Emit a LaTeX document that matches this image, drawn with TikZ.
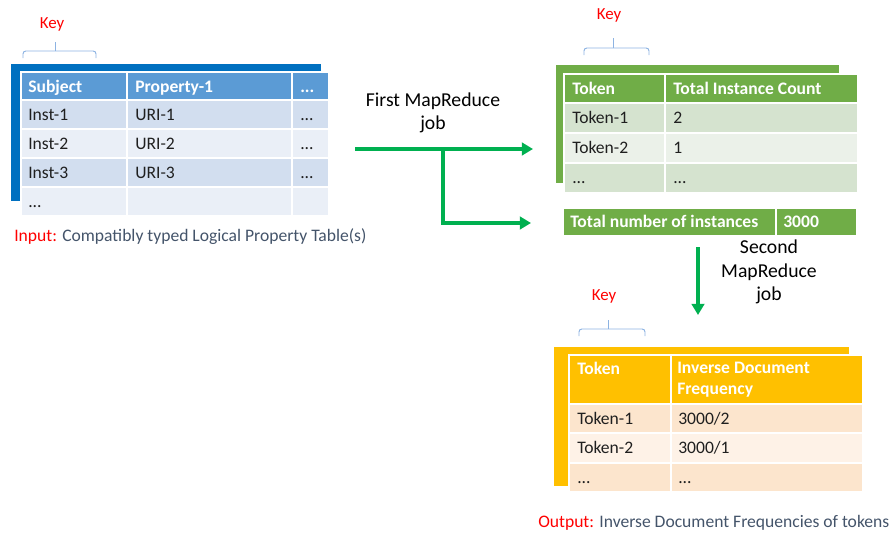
\documentclass[tikz,border=0pt]{standalone}
\usepackage{fontspec}
\setmainfont{Carlito}
\usepackage{tikz}
\usetikzlibrary{arrows.meta}
\definecolor{inHd}{RGB}{91,155,213}
\definecolor{inBk}{RGB}{0,112,192}
\definecolor{inA}{RGB}{210,222,239}
\definecolor{inB}{RGB}{234,239,247}
\definecolor{cnHd}{RGB}{112,173,71}
\definecolor{cnA}{RGB}{213,227,207}
\definecolor{cnB}{RGB}{235,241,233}
\definecolor{idHd}{RGB}{255,192,0}
\definecolor{idA}{RGB}{252,229,205}
\definecolor{idB}{RGB}{254,242,231}
\definecolor{mrgreen}{RGB}{0,176,80}
\definecolor{captgray}{RGB}{68,84,106}
\definecolor{brc}{RGB}{141,179,226}
\newcommand{\etcdots}{...}

\begin{document}
\begin{tikzpicture}[x=0.025cm,y=-0.025cm,
  txt/.style={anchor=west,inner sep=0pt,text height=8.5pt,text depth=0.5pt,
    font=\fontsize{12.5}{15}\selectfont,text=black!88},
  hd/.style={txt,font=\fontsize{12.5}{15}\selectfont\bfseries,text=white},
  hdtwo/.style={anchor=west,inner sep=0pt,align=left,
    font=\fontsize{12.5}{15}\selectfont\bfseries,text=white},
  cellA/.style={draw=white,line width=1pt},
  keytxt/.style={text=red,font=\fontsize{12}{14}\selectfont},
  keybr/.style={brc,line width=0.7pt,rounded corners=2},
  capt/.style={anchor=west,inner sep=0pt,text height=8.5pt,text depth=0.5pt,
    text=captgray,font=\fontsize{12.5}{15}\selectfont},
  mr/.style={mrgreen,line width=2.8pt,-{Triangle[length=8pt,width=9pt]}},
  mrtxt/.style={align=center,font=\fontsize{14}{16.5}\selectfont}]
\useasboundingbox (0,0) rectangle (895,533);
% (a) input table
\begin{scope}[shift={(21,72)}]
  \fill[inBk] (-10,-8) rectangle (300,129);
  \foreach \x/\X in {0/106,106/271,271/308}{\filldraw[cellA,fill=inHd] (\x,0) rectangle (\X,28);}
  \foreach \y/\Y/\c in {28/57/inA,57/86/inB,86/115/inA,115/144/inB}{
    \foreach \x/\X in {0/106,106/271,271/308}{\filldraw[cellA,fill=\c] (\x,\y) rectangle (\X,\Y);}}
  \draw[white,line width=1.6pt] (0,28) -- (308,28);
  \node[hd] (inH1) at (7,15) {Subject};
  \node[hd] (inH2) at (114,15) {Property-1};
  \node[hd] (inH3) at (279,15) {\etcdots};
  \foreach \n/\y in {1/43,2/72,3/101}{
    \node[txt] (inA\n) at (7,\y) {Inst-\n};
    \node[txt] (inB\n) at (114,\y) {URI-\n};
    \node[txt] (inC\n) at (279,\y) {\etcdots};}
  \node[txt] (inA4) at (7,130) {\etcdots};
\end{scope}
\node[keytxt] (keyIn) at (52,24) {Key};
\draw[keybr] (23,58) -- (23,51) -- (96,51) -- (96,58);
\draw[keybr] (55,51) -- (55,42);
\node[capt] (capIn) at (14,236) {\textcolor{red}{Input:} Compatibly typed Logical Property Table(s)};
% (b) token counts
\begin{scope}[shift={(564,74)}]
  \fill[cnHd] (-8,-9) rectangle (275,109);
  \foreach \x/\X in {0/101,101/294}{\filldraw[cellA,fill=cnHd] (\x,0) rectangle (\X,29);}
  \foreach \y/\Y/\c in {29/59/cnA,59/89/cnB,89/119/cnA}{
    \foreach \x/\X in {0/101,101/294}{\filldraw[cellA,fill=\c] (\x,\y) rectangle (\X,\Y);}}
  \draw[white,line width=1.6pt] (0,29) -- (294,29);
  \node[hd] (cnH1) at (8,14.5) {Token};
  \node[hd] (cnH2) at (109,14.5) {Total Instance Count};
  \foreach \n/\a/\b/\y in {1/Token-1/2/44,2/Token-2/1/74,3/\etcdots/\etcdots/104}{
    \node[txt] (cnA\n) at (8,\y) {\a};
    \node[txt] (cnB\n) at (109,\y) {\b};}
  % total number of instances
  \foreach \x/\X in {-1/212,212/293}{\filldraw[cellA,fill=cnHd] (\x,134) rectangle (\X,162);}
  \node[hd] (totL) at (6,148) {Total number of instances};
  \node[hd] (totV) at (219,148) {3000};
\end{scope}
\node[keytxt] (keyCn) at (609,15) {Key};
\draw[keybr] (584,55) -- (584,48) -- (649,48) -- (649,55);
\draw[keybr] (613,48) -- (613,38);
% (c) inverse document frequencies
\begin{scope}[shift={(569,355)}]
  \fill[idHd] (-15,-8) rectangle (280,131);
  \foreach \x/\X in {0/102,102/294}{\filldraw[cellA,fill=idHd] (\x,0) rectangle (\X,49);}
  \foreach \y/\Y/\c in {49/78/idA,78/108/idB,108/137/idA}{
    \foreach \x/\X in {0/102,102/294}{\filldraw[cellA,fill=\c] (\x,\y) rectangle (\X,\Y);}}
  \draw[white,line width=1.6pt] (0,49) -- (294,49);
  \node[hd] (idH1) at (8,14) {Token};
  \node[hdtwo] (idH2) at (108,25) {Inverse Document\\Frequency};
  \foreach \n/\a/\b/\y in {1/Token-1/3000\slash 2/63.5,2/Token-2/3000\slash 1/93,3/\etcdots/\etcdots/122.5}{
    \node[txt] (idA\n) at (8,\y) {\a};
    \node[txt] (idB\n) at (109,\y) {\b};}
\end{scope}
\node[keytxt] (keyId) at (604,296) {Key};
\draw[keybr] (579,336) -- (579,329) -- (645,329) -- (645,336);
\draw[keybr] (608,329) -- (608,320);
\node[capt] (capOut) at (538,522) {\textcolor{red}{Output:} Inverse Document Frequencies of tokens};
% MapReduce jobs
\coordinate (mrA) at (355,149);
\coordinate (mrB) at (443,149);
\coordinate (mrCn) at (533,149);
\coordinate (mrTot) at (531,223);
\coordinate (mrS) at (698,247);
\coordinate (mrId) at (698,315);
\draw[mr] (mrA) -- (mrCn);
\draw[mr] (mrB) |- (mrTot);
\draw[mr] (mrS) -- (mrId);
\node[mrtxt] (mr1t) at (433,113) {First MapReduce\\job};
\node[mrtxt] (mr2t) at (769,272) {Second\\MapReduce\\job};
\end{tikzpicture}
\end{document}
